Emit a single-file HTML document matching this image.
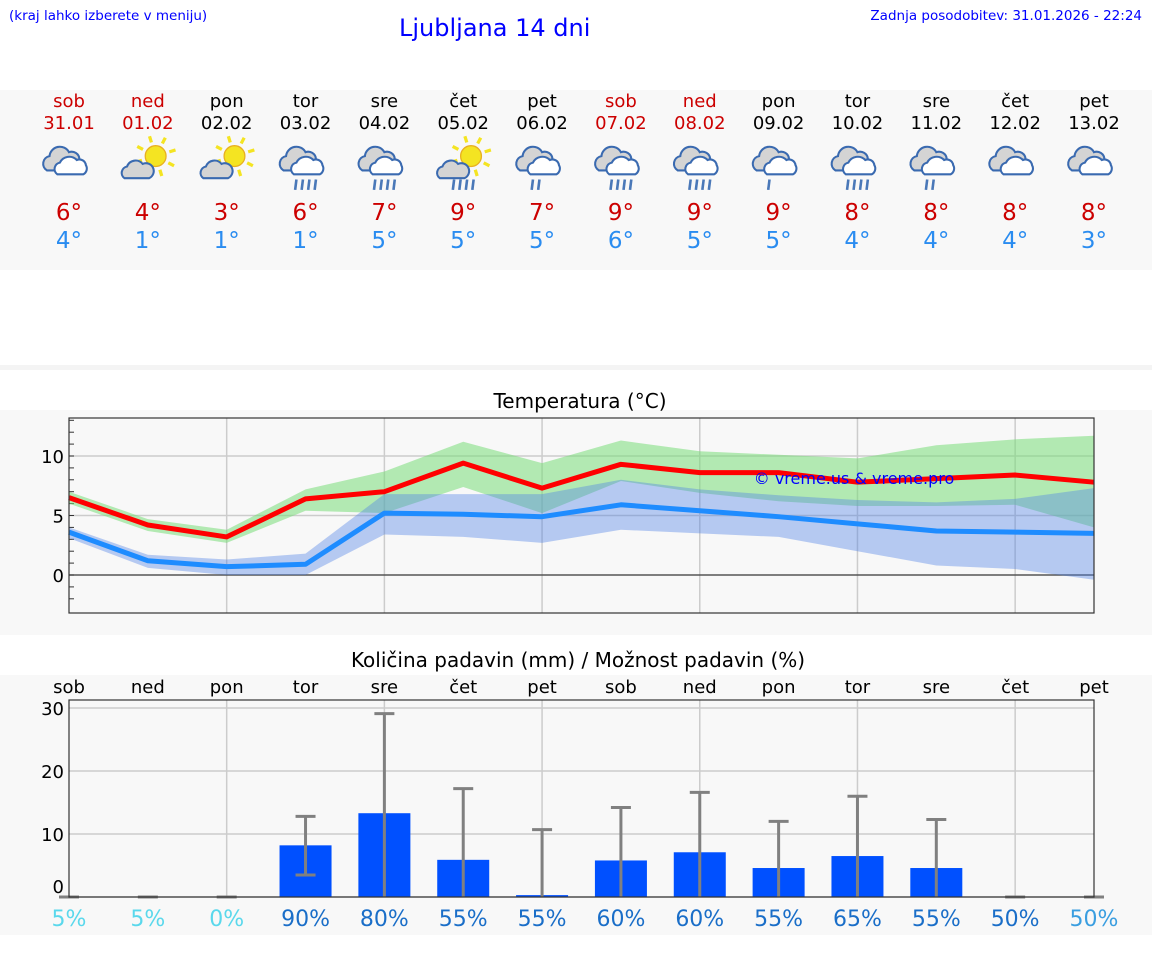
<!DOCTYPE html>
<html><head><meta charset="utf-8">
<style>
body{margin:0;width:1152px;height:975px;background:#fff;font-family:"DejaVu Sans","Liberation Sans",sans-serif;position:relative;overflow:hidden}
.a{position:absolute}
</style></head><body>
<div class="a" style="left:9px;top:8px;font-size:13.5px;color:#0000ff">(kraj lahko izberete v meniju)</div>
<div class="a" style="left:399px;top:14px;font-size:24px;color:#0000ff">Ljubljana 14 dni</div>
<div class="a" style="right:10px;top:8px;font-size:13.5px;color:#0000ff">Zadnja posodobitev: 31.01.2026 - 22:24</div>
<div class="a" style="left:0;top:90px;width:1152px;height:180px;background:#f8f8f8"></div>
<div class="a" style="left:0;top:365px;width:1152px;height:5px;background:#f4f4f4"></div>
<svg class="a" style="left:0;top:0" width="1152" height="975" id="svg"></svg>
<script>
const days=["sob","ned","pon","tor","sre","čet","pet","sob","ned","pon","tor","sre","čet","pet"];
const dates=["31.01","01.02","02.02","03.02","04.02","05.02","06.02","07.02","08.02","09.02","10.02","11.02","12.02","13.02"];
const weekend=[1,1,0,0,0,0,0,1,1,0,0,0,0,0];
const icons=["c","s","s","r4","r4","sr","r2","r4","r4","r1","r4","r2","c","c"];
const tmaxDay=[6,4,3,6,7,9,7,9,9,9,8,8,8,8];
const tminDay=[4,1,1,1,5,5,5,6,5,5,4,4,4,3];
const tMax=[6.5,4.2,3.2,6.4,7.0,9.4,7.3,9.3,8.6,8.6,7.8,8.1,8.4,7.8];
const tMin=[3.6,1.2,0.7,0.9,5.2,5.1,4.9,5.9,5.4,4.9,4.3,3.7,3.6,3.5];
const maxHi=[7.0,4.7,3.8,7.2,8.7,11.2,9.4,11.3,10.4,10.1,9.8,10.9,11.4,11.7];
const maxLo=[6.0,3.7,2.7,5.4,5.2,7.4,5.2,7.9,6.9,6.2,5.8,5.8,5.9,4.0];
const minHi=[4.0,1.7,1.3,1.8,6.8,6.8,6.8,8.0,7.2,6.7,6.3,6.1,6.4,7.3];
const minLo=[3.1,0.6,0.0,0.0,3.4,3.2,2.7,3.8,3.5,3.2,2.0,0.8,0.5,-0.4];
const tempTicks=[0,5,10];
const precip=[0,0,0,8.2,13.3,5.9,0.3,5.8,7.1,4.6,6.5,4.6,0,0];
const errLo=[0,0,0,3.5,0,0,0,0,0,0,0,0,0,0];
const errHi=[0,0,0,12.8,29.1,17.2,10.7,14.2,16.6,12.0,16.0,12.3,0,0];
const prob=[5,5,0,90,80,55,55,60,60,55,65,55,50,50];
const precipTicks=[0,10,20,30];

const svg=document.getElementById('svg');const NS="http://www.w3.org/2000/svg";
function mk(t,a,p){const e=document.createElementNS(NS,t);for(const k in a)e.setAttribute(k,a[k]);(p||svg).appendChild(e);return e;}
function tx(x,y,s,size,fill,anchor){const e=mk('text',{x:x,y:y,'font-size':size,fill:fill,'text-anchor':anchor||'middle','font-family':'"DejaVu Sans","Liberation Sans",sans-serif'});e.textContent=s;return e;}
const X=i=>69+i*(1094-69)/13;
for(let i=0;i<14;i++){
 const x=X(i),col=weekend[i]?'#cc0000':'#000';
 let e=tx(x,107,days[i],18,col);
 
 
 e=tx(x,129,dates[i],18,col);
 
 
 const g=mk('g',{transform:`translate(${x},160) scale(1.3)`});
 
 
 const ic=icons[i];
 if(ic[0]=='s'){mk('circle',{cx:6,cy:-3,r:8,fill:'#f4e422',stroke:'#e8b020','stroke-width':1},g);
  for(let k=0;k<8;k++){const a=k*Math.PI/4-0.3;mk('line',{x1:6+11*Math.cos(a),y1:-3+11*Math.sin(a),x2:6+16*Math.cos(a),y2:-3+16*Math.sin(a),stroke:'#f4e422','stroke-width':2.5},g);}
  mk('path',{d:'M-18 14 a5 5 0 0 1 2 -9 a7 7 0 0 1 12 -2 a5 5 0 0 1 5 11 z',fill:'#d4d4d4',stroke:'#3a6ab0','stroke-width':1.6},g);}
 else{mk('path',{d:'M-17 8 a6 6 0 0 1 2 -11 a8 8 0 0 1 15 -3 a6 6 0 0 1 8 5 a6 6 0 0 1 -2 9 z',fill:'#d4d4d4',stroke:'#3a6ab0','stroke-width':1.6},g);
  mk('path',{d:'M-9 11 a5 5 0 0 1 2 -9 a8 8 0 0 1 13 -2 a5 5 0 0 1 7 4 a5 5 0 0 1 -2 7 z',fill:'#fff',stroke:'#3a6ab0','stroke-width':1.6},g);}
 if(ic.length>1&&ic!='s'){const n=ic=='sr'?4:+ic[1];for(let k=0;k<n;k++)mk('line',{x1:-7+k*5,y1:15,x2:-8+k*5,y2:23,stroke:'#4a78b8','stroke-width':2},g);}
 e=tx(x,220,tmaxDay[i]+'°',23,'#cc0000');
 
 
 e=tx(x,248,tminDay[i]+'°',23,'#2a8cf0');
 
 
}
let r=mk('rect',{x:0,y:410,width:1152,height:225,fill:'#f8f8f8'});


let t=tx(580,408,'Temperatura (°C)',20,'#000');


const TY=v=>575-v*11.9;
for(let i=2;i<13;i+=2)mk('line',{x1:X(i),y1:418,x2:X(i),y2:613,stroke:'#ccc','stroke-width':1.5});
for(const v of tempTicks){mk('line',{x1:69,y1:TY(v),x2:1094,y2:TY(v),stroke:v==0?'#555':'#ccc','stroke-width':1.5});
 t=tx(64,TY(v)+7,v,18,'#000','end');}
for(let v=-2;v<=13;v++)mk('line',{x1:69,y1:TY(v),x2:74,y2:TY(v),stroke:'#333'});
function band(hi,lo,fill,name){let d='';hi.forEach((v,i)=>d+=(i?'L':'M')+X(i)+' '+TY(v));for(let i=13;i>=0;i--)d+='L'+X(i)+' '+TY(lo[i]);const p=mk('path',{d:d+'Z',fill:fill});}
band(maxHi,maxLo,'rgba(120,220,120,0.55)','max-temp-band');
band(minHi,minLo,'rgba(80,130,230,0.4)','min-temp-band');
function line(v,c,name){const p=mk('polyline',{points:v.map((y,i)=>X(i)+','+TY(y)).join(' '),fill:'none',stroke:c,'stroke-width':5,'stroke-linejoin':'round'});}
line(tMin,'#1e8cff','min-temp-line');
line(tMax,'#ff0000','max-temp-line');
t=tx(854,484,'© vreme.us & vreme.pro',16,'#0000ff');


mk('rect',{x:69,y:418,width:1025,height:195,fill:'none',stroke:'#333','stroke-width':1.2});
r=mk('rect',{x:0,y:675,width:1152,height:260,fill:'#f8f8f8'});


t=tx(578,667,'Količina padavin (mm) / Možnost padavin (%)',20,'#000');


const PY=v=>897-v*6.3;
for(let i=2;i<13;i+=2)mk('line',{x1:X(i),y1:700,x2:X(i),y2:897,stroke:'#ccc','stroke-width':1.5});
for(const v of precipTicks){mk('line',{x1:69,y1:PY(v),x2:1094,y2:PY(v),stroke:'#ccc','stroke-width':1.5});
 t=tx(64,v==0?PY(v)-4:PY(v)+7,v,18,'#000','end');}
for(let i=0;i<14;i++){
 const x=X(i);
 t=tx(x,693,days[i],18,'#000');
 if(precip[i]>0){const b=mk('rect',{x:x-26,y:PY(precip[i]),width:52,height:precip[i]*6.3,fill:'#0050ff'});}
 const eb=mk('g',{stroke:'#808080','stroke-width':3});
 
 
 mk('line',{x1:x,y1:PY(errLo[i]),x2:x,y2:PY(errHi[i])},eb);
 mk('line',{x1:x-10,y1:PY(errHi[i]),x2:x+10,y2:PY(errHi[i])},eb);
 if(errLo[i]>0)mk('line',{x1:x-10,y1:PY(errLo[i]),x2:x+10,y2:PY(errLo[i])},eb);
 const c=prob[i]<=5?'#5ad8ec':(i==13?'#3a9ee0':'#1a6ec8');
 t=tx(x,926,prob[i]+'%',22,c);
}
mk('rect',{x:69,y:700,width:1025,height:197,fill:'none',stroke:'#333','stroke-width':1.2});
</script>
</body></html>
